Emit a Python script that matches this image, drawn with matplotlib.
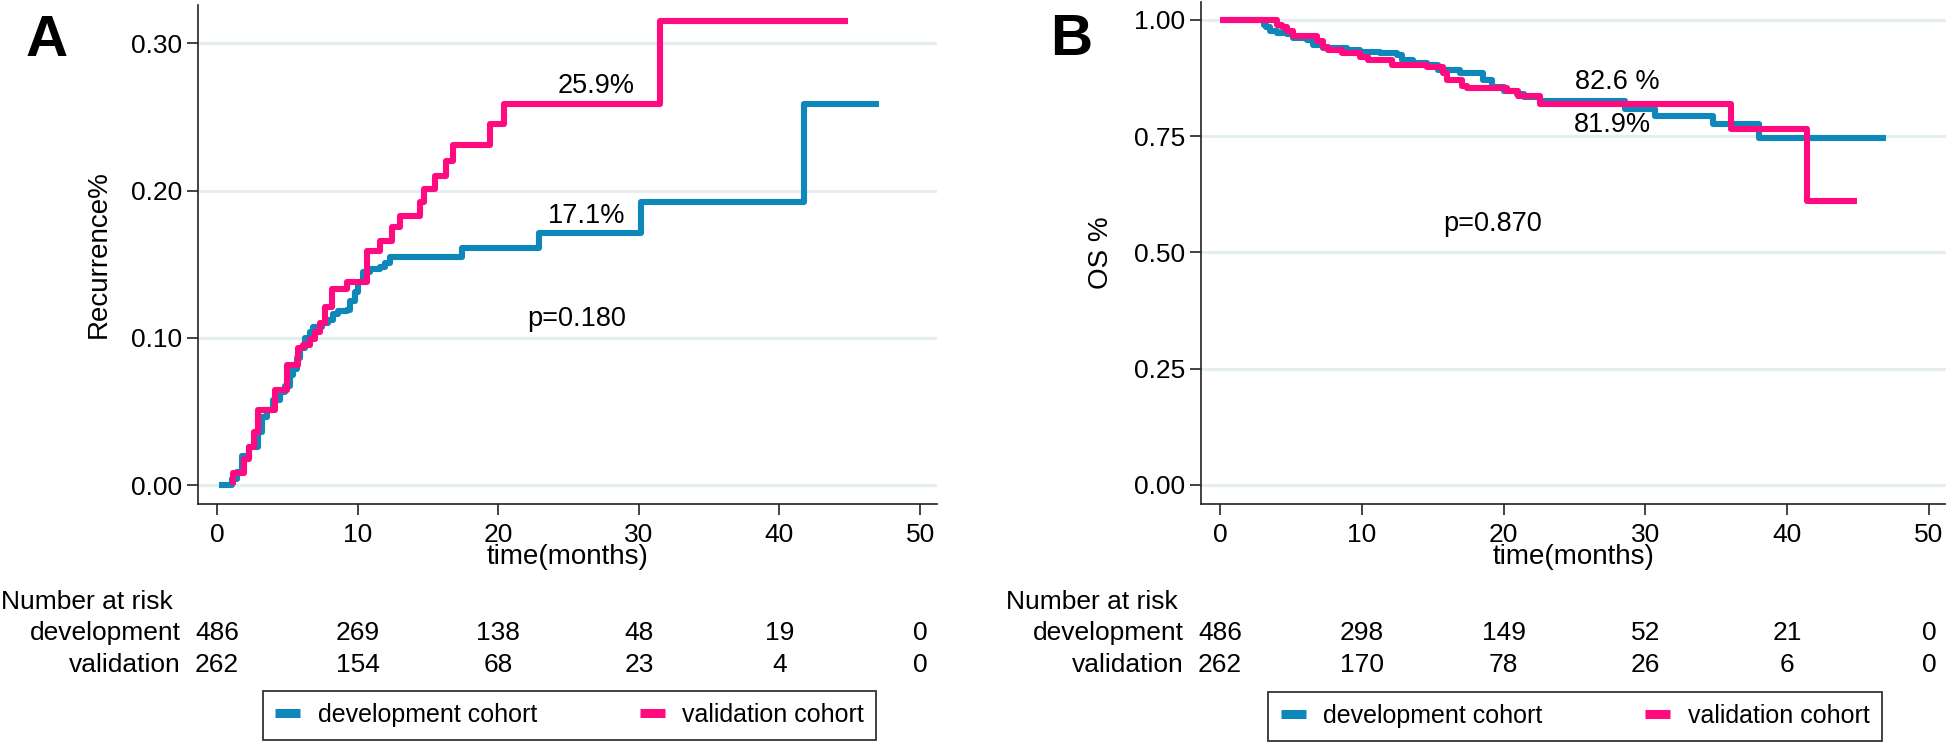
import matplotlib
matplotlib.use("Agg")
import matplotlib.pyplot as plt
from matplotlib.lines import Line2D
from matplotlib.transforms import blended_transform_factory

plt.rcParams['font.family'] = ['Liberation Sans', 'DejaVu Sans']

# ---------------- data ----------------
# Panel A: cumulative recurrence (step curves)
A_dev_t = [0.13, 1.1, 1.4, 1.8, 2.3, 2.94, 3.18, 3.53, 4.0, 4.48, 4.84, 5.2, 5.4, 5.67, 5.9,
           6.26, 6.62, 6.84, 7.44, 7.9, 8.25, 8.6, 9.22, 9.46, 9.8, 10.05, 10.4, 10.9, 11.6,
           11.95, 12.3, 17.42, 22.87, 30.18, 41.77, 47.08]
A_dev_y = [0.0, 0.004, 0.009, 0.02, 0.026, 0.036, 0.046, 0.051, 0.058, 0.063, 0.067, 0.075,
           0.079, 0.0865, 0.093, 0.100, 0.104, 0.107, 0.110, 0.112, 0.116, 0.118, 0.119, 0.125,
           0.131, 0.138, 0.145, 0.147, 0.148, 0.151, 0.155, 0.161, 0.171, 0.192, 0.259, 0.259]
A_val_t = [1.13, 1.13, 1.9, 2.3, 2.6, 2.9, 4.12, 4.96, 5.77, 6.1, 6.62, 6.97, 7.33, 7.7, 8.16,
           9.22, 10.65, 11.6, 12.41, 12.98, 14.42, 14.72, 15.5, 16.25, 16.81, 19.38, 20.38,
           31.53, 44.9]
A_val_y = [0.0, 0.008, 0.018, 0.026, 0.036, 0.051, 0.0645, 0.0815, 0.093, 0.095, 0.099, 0.104,
           0.110, 0.121, 0.133, 0.138, 0.159, 0.166, 0.175, 0.183, 0.192, 0.201, 0.210, 0.220,
           0.231, 0.245, 0.259, 0.315, 0.315]

# Panel B: overall survival (step curves)
B_dev_t = [0, 3.06, 3.2, 3.5, 4.0, 4.7, 5.17, 6.1, 6.58, 7.29, 8.93, 9.87, 11.28, 12.46, 12.8,
           13.6, 14.57, 15.4, 16.9, 18.57, 19.16, 20.0, 20.92, 21.4, 22.57, 28.56, 30.7, 34.74,
           38.0, 47.0]
B_dev_y = [1.0, 0.99, 0.985, 0.976, 0.971, 0.969, 0.961, 0.958, 0.947, 0.940, 0.936, 0.932,
           0.930, 0.925, 0.914, 0.908, 0.903, 0.892, 0.886, 0.870, 0.856, 0.848, 0.840, 0.834,
           0.826, 0.808, 0.794, 0.776, 0.746, 0.746]
B_val_t = [0, 4.0, 4.35, 4.7, 5.17, 6.82, 7.29, 7.64, 8.58, 9.87, 10.46, 12.1, 14.57, 15.75,
           16.0, 17.04, 17.4, 20.2, 21.04, 22.57, 36.05, 41.4, 44.9]
B_val_y = [1.0, 0.99, 0.985, 0.976, 0.965, 0.954, 0.943, 0.936, 0.929, 0.921, 0.915, 0.903,
           0.899, 0.885, 0.870, 0.859, 0.854, 0.848, 0.837, 0.819, 0.766, 0.611, 0.611]

risk_times = [0, 10, 20, 30, 40, 50]
A_risk_dev = [486, 269, 138, 48, 19, 0]
A_risk_val = [262, 154, 68, 23, 4, 0]
B_risk_dev = [486, 298, 149, 52, 21, 0]
B_risk_val = [262, 170, 78, 26, 6, 0]

A_yticks = [0.0, 0.10, 0.20, 0.30]
B_yticks = [0.0, 0.25, 0.50, 0.75, 1.00]
xticks = [0, 10, 20, 30, 40, 50]

series_labels = ["development cohort", "validation cohort"]
row_labels = ["development", "validation"]

# ---------------- style ----------------
W, H = 1946, 744
BLUE = "#0e87ba"
PINK = "#ff0a7f"
GRID = "#e4eef0"
LW = 4.4

fig = plt.figure(figsize=(W / 100, H / 100), dpi=100)


def make_panel(ax_rect, ylim, yticks, ylabel, dev_t, dev_y, val_t, val_y, annots,
               letter, letter_xy, risk_dev, risk_val, nar_x, rowlab_x, legend_center):
    ax = fig.add_axes(ax_rect)
    ax.set_xlim(-1.35, 51.2)
    ax.set_ylim(*ylim)
    for y in yticks:
        ax.axhline(y, color=GRID, lw=2.2, zorder=0)
    ax.step(dev_t, dev_y, where="post", color=BLUE, lw=LW, solid_capstyle="butt", zorder=2)
    ax.step(val_t, val_y, where="post", color=PINK, lw=LW, solid_capstyle="butt", zorder=3)
    ax.set_yticks(yticks)
    ax.set_yticklabels([f"{v:.2f}" for v in yticks])
    ax.set_xticks(xticks)
    ax.set_xticklabels([str(v) for v in xticks])
    for s in ["top", "right"]:
        ax.spines[s].set_visible(False)
    for s in ["left", "bottom"]:
        ax.spines[s].set_linewidth(1.2)
        ax.spines[s].set_color("#222222")
    ax.tick_params(axis="both", length=8, width=1.2, color="#222222", labelsize=19)
    ax.tick_params(axis="y", pad=3.5)
    ax.tick_params(axis="x", pad=6)
    ax.set_ylabel(ylabel, fontsize=20, labelpad=14)
    for txt, x, y in annots:
        ax.text(x, y, txt, ha="center", va="center", fontsize=19.5)
    fig.text(letter_xy[0] / W, 1 - letter_xy[1] / H, letter, fontsize=42, fontweight="bold",
             ha="center", va="center")
    # x label
    pos = ax.get_position()
    fig.text((pos.x0 + pos.x1) / 2, 1 - 557 / H, "time(months)", fontsize=20,
             ha="center", va="center")
    # number at risk
    tr = blended_transform_factory(ax.transData, fig.transFigure)
    fig.text(nar_x / W, 1 - 602 / H, "Number at risk", fontsize=19, ha="left", va="center")
    for lab, vals, yy in [(row_labels[0], risk_dev, 633), (row_labels[1], risk_val, 665)]:
        fig.text(rowlab_x / W, 1 - yy / H, lab, fontsize=19, ha="right", va="center")
        for t, v in zip(risk_times, vals):
            ax.text(t, 1 - yy / H, str(v), transform=tr, fontsize=19, ha="center",
                    va="center", clip_on=False)
    handles = [Line2D([0], [0], color=BLUE, lw=6.5, solid_capstyle="butt"),
               Line2D([0], [0], color=PINK, lw=6.5, solid_capstyle="butt")]
    leg = fig.legend(handles, series_labels, loc="center",
                     bbox_to_anchor=(legend_center[0] / W, 1 - legend_center[1] / H),
                     ncol=2, frameon=True, fancybox=False, edgecolor="black", fontsize=18,
                     handlelength=1.0, handletextpad=0.7, columnspacing=4.1, borderpad=0.5)
    leg.get_frame().set_linewidth(1.3)
    return ax


make_panel([198 / W, 1 - 503.6 / H, (937 - 198) / W, (503.6 - 5) / H],
           (-0.0126, 0.326), A_yticks, "Recurrence%",
           A_dev_t, A_dev_y, A_val_t, A_val_y,
           [("25.9%", 26.96, 0.271), ("17.1%", 26.25, 0.1827), ("p=0.180", 25.6, 0.1128)],
           "A", (47, 41), A_risk_dev, A_risk_val, 1, 181, (569.5, 715))

make_panel([1201 / W, 1 - 503.6 / H, (W - 1201) / W, (503.6 - 2) / H],
           (-0.04, 1.0387), B_yticks, "OS %",
           B_dev_t, B_dev_y, B_val_t, B_val_y,
           [("82.6 %", 28.0, 0.867), ("81.9%", 27.7, 0.774), ("p=0.870", 19.25, 0.562)],
           "B", (1071, 40), B_risk_dev, B_risk_val, 1006, 1184, (1575, 716))

fig.savefig("out.png", dpi=100)
